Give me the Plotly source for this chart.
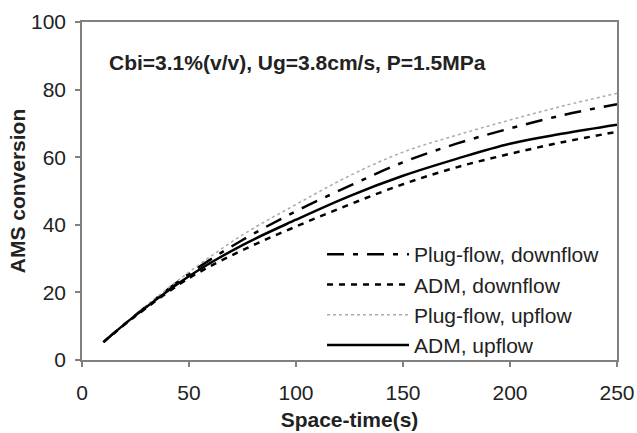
import plotly.graph_objects as go

space_time = [10, 25, 50, 75, 100, 125, 150, 175, 200, 225, 250]
plug_down = [5.3, 13.3, 25.5, 35.5, 44.0, 51.5, 58.5, 64.0, 68.5, 72.5, 75.7]
adm_down = [5.3, 13.0, 24.2, 32.5, 39.5, 46.0, 52.0, 57.0, 61.0, 64.5, 67.5]
plug_up = [5.3, 13.5, 26.0, 37.0, 46.0, 54.5, 61.5, 66.5, 71.0, 75.2, 78.9]
adm_up = [5.3, 13.2, 24.8, 34.0, 41.5, 48.5, 54.5, 59.5, 64.0, 67.0, 69.6]

x_ticks = [0, 50, 100, 150, 200, 250]
y_ticks = [0, 20, 40, 60, 80, 100]

FONT = "Liberation Sans, Arial"
TXT = "#222222"

fig = go.Figure()
fig.add_trace(go.Scatter(x=space_time, y=plug_down, mode="lines", name="Plug-flow, downflow",
                         line=dict(color="black", width=2.5, dash="17px,9px,5px,9px", shape="spline")))
fig.add_trace(go.Scatter(x=space_time, y=adm_down, mode="lines", name="ADM, downflow",
                         line=dict(color="black", width=2.5, dash="6px,6px", shape="spline")))
fig.add_trace(go.Scatter(x=space_time, y=plug_up, mode="lines", name="Plug-flow, upflow",
                         line=dict(color="#aaaaaa", width=1.5, dash="dot", shape="spline")))
fig.add_trace(go.Scatter(x=space_time, y=adm_up, mode="lines", name="ADM, upflow",
                         line=dict(color="black", width=2.5, shape="spline")))

axis_common = dict(showgrid=False, zeroline=False, showline=True, linecolor="#808080", linewidth=1.5,
                   mirror=True, ticks="outside", ticklen=5, tickcolor="#808080", tickwidth=1.5,
                   automargin=False,
                   tickfont=dict(family=FONT, size=21, color=TXT))

fig.update_xaxes(range=[0, 250], tickvals=x_ticks, ticklabelstandoff=8, **axis_common,
                 title=dict(text="<b>Space-time(s)</b>", font=dict(family=FONT, size=21, color=TXT), standoff=9))
fig.update_yaxes(range=[0, 100], tickvals=y_ticks, ticklabelstandoff=5, **axis_common,
                 title=dict(text="<b>AMS conversion</b>", font=dict(family=FONT, size=21, color=TXT), standoff=0))

fig.add_annotation(x=(107 - 82) / 535, y=(360 - 63) / 338, xref="paper", yref="paper",
                   text="<b>Cbi=3.1%(v/v), Ug=3.8cm/s, P=1.5MPa</b>",
                   showarrow=False, xanchor="left", yanchor="middle",
                   font=dict(family=FONT, size=21, color=TXT))

fig.update_layout(
    width=637, height=433,
    margin=dict(l=82, r=20, t=22, b=73),
    paper_bgcolor="white", plot_bgcolor="white",
    showlegend=True,
    legend=dict(x=(322 - 82) / 535, y=(360 - 234) / 338, xanchor="left", yanchor="top",
                bgcolor="rgba(0,0,0,0)", itemwidth=82, tracegroupgap=0,
                font=dict(family=FONT, size=21, color=TXT)),
)

fig.write_html("out.html")
